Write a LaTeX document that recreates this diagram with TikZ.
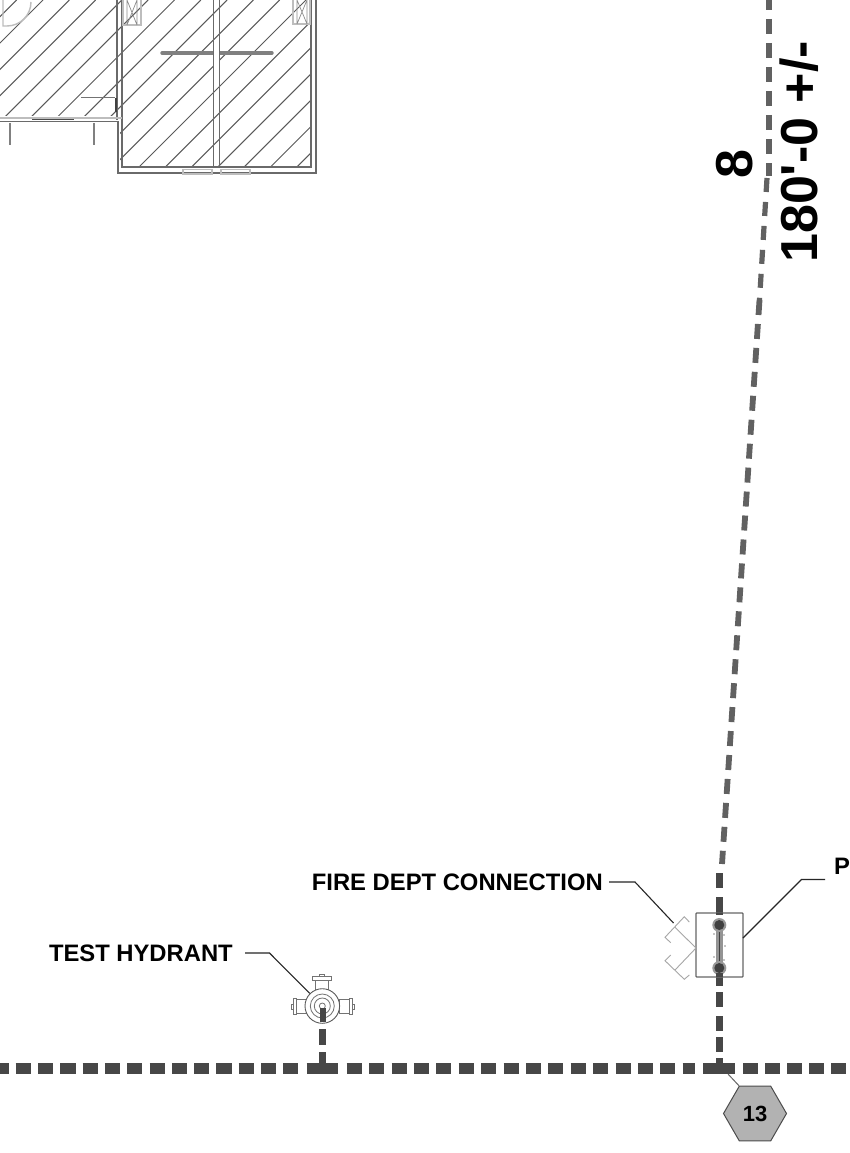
\documentclass[tikz,border=0pt]{standalone}
\usepackage{fontspec}
\setmainfont{Liberation Sans}
\newfontfamily\plainfont{Liberation Sans}
\usetikzlibrary{shapes.geometric}
\definecolor{pipe}{HTML}{474747}
\definecolor{wallc}{HTML}{6A6A6A}
\definecolor{lightc}{HTML}{BDBDBD}
\definecolor{hexc}{HTML}{B2B2B2}
\tikzset{
  label text/.style={font=\bfseries\fontsize{23.8}{28}\selectfont, inner sep=0pt, text=black},
  big text/.style={font=\plainfont\bfseries\fontsize{52}{60}\selectfont, inner sep=0pt, rotate=90, text=black},
  leader/.style={draw=black!85, line width=1.1pt},
  hatch/.style={draw=black!65, line width=1pt},
  wall/.style={draw=wallc, line width=1.8pt},
  faint/.style={draw=lightc, line width=1.4pt},
  hydr/.style={draw=black!55, line width=0.9pt, fill=white},
  mainpipe/.style={draw=pipe, line width=11.5pt},
  midpipe/.style={draw=pipe, line width=6.8pt},
  thinpipe/.style={draw=black!62, line width=5.2pt}
}
\begin{document}
\begin{tikzpicture}[x=1pt,y=-1pt]
\useasboundingbox (0,0) rectangle (849,1153);
\clip (0,0) rectangle (849,1153);
\fill[white] (0,0) rectangle (849,1153);

% --- building: hatching (one 45 degree family, x+y = 306 + 26.3k)
\begin{scope}
  \clip (0,0) rectangle (120,116) (120,0) rectangle (311,167);
  \foreach \k in {-12,...,8}
    \draw[hatch] ({306+26.3*\k},0) -- ({306+26.3*\k-200},200);
\end{scope}
% bar
\draw[draw=black!50,line width=3.4pt,line cap=round] (162,53) -- (272,53);
\fill[white] (214,40) rectangle (219,68);
% walls
\draw[wall] (117.3,0) -- (117.3,120);
\draw[wall] (122,0) -- (122,167) -- (311,167) -- (311,0);
\draw[wall] (316,0) -- (316,172.7) -- (118,172.7) -- (118,121.5) -- (0,121.5);
\draw[wall,line width=1.3pt] (213.5,0) -- (213.5,167);
\draw[wall,line width=1.3pt] (219.5,0) -- (219.5,167);
\draw[faint] (0,118) -- (122,118);
\draw[draw=black!70,line width=1.8pt] (32,119.5) -- (74,119.5);
\draw[draw=black!50,line width=2.6pt] (10,123) -- (10,145);
\draw[draw=black!50,line width=2.6pt] (94,123) -- (94,145);
\draw[draw=black!55,line width=1pt] (81,98) -- (115,98);
\draw[draw=black!75,line width=1.3pt] (116,98) -- (116,112);
% windows
\draw[faint] (183,169.5) rectangle (212,174);
\draw[faint] (221,169.5) rectangle (250,174);
% door arc
\draw[faint] (3,0) -- (3,26) -- (7,26) arc[start angle=90,end angle=0,radius=24];
% boxes at wall
\draw[faint] (123,-2) rectangle (141,25);
\draw[draw=black!45,line width=.7pt] (127,-2) -- (127,25) (127,0) -- (137,25) (137,0) -- (127,25) (137,-2) -- (137,25);
\draw[faint] (293,-2) rectangle (310,24);
\draw[draw=black!45,line width=.7pt] (297,-2) -- (297,24) (297,0) -- (307,24) (307,0) -- (297,24) (307,-2) -- (307,24);

% --- long dashed run
\draw[thinpipe,dash pattern=on 15pt off 9pt] (769,-5) -- (769,176);
\draw[thinpipe,dash pattern=on 14pt off 10pt] (767,178) -- (759.5,300);
\draw[thinpipe,line width=5.8pt,dash pattern=on 15pt off 9pt] (759.5,300) -- (722,864);

% main horizontal line
\draw[mainpipe,dash pattern=on 15.2pt off 7.1pt] (-6.6,1068.5) -- (298,1068.5);
\draw[mainpipe] (306.7,1068.5) -- (338,1068.5);
\draw[mainpipe,dash pattern=on 15pt off 7.4pt] (346.7,1068.5) -- (695,1068.5);
\draw[mainpipe] (703.3,1068.5) -- (735,1068.5);
\draw[mainpipe,dash pattern=on 15pt off 7pt] (743.3,1068.5) -- (855,1068.5);

% hydrant branch
\draw[midpipe] (322.5,1052) -- (322.5,1064);
\draw[midpipe] (322.5,1029) -- (322.5,1045);

% FDC branch
\foreach \a/\b in {1058/1064,1037/1052,1016/1031,992/1007,977/986,897/913,873/888}
  \draw[midpipe] (719.3,\a) -- (719.3,\b);

% --- hydrant symbol
\draw[hydr] (296,999) rectangle (306,1013.5);
\draw[hydr] (339,999) rectangle (349,1013.5);
\draw[hydr] (293,998) rectangle (296,1014);
\draw[hydr] (349,998) rectangle (352,1014);
\draw[hydr] (291.5,1004) rectangle (293,1009);
\draw[hydr] (352,1004) rectangle (354,1009);
\draw[hydr] (315.7,980.7) rectangle (328,995);
\draw[hydr] (312.7,976.7) rectangle (331,980.7);
\draw[hydr] (319,974.3) rectangle (324,976.7);
\node[circle,draw=black!65,fill=white,line width=.9pt,minimum size=34.6pt,inner sep=0pt] (hyd) at (322.3,1006) {};
\draw[draw=black!55,line width=.8pt] (hyd.center) circle[radius=12];
\draw[draw=black!55,line width=.8pt] (hyd.center) circle[radius=8];
\draw[draw=black!55,line width=.8pt] (hyd.center) circle[radius=3];
\draw[midpipe,line width=6pt] (322.5,1008) -- (322.5,1022);

% --- FDC symbol
\node[draw=black!60,line width=1.2pt,fill=white,minimum width=47pt,minimum height=64pt,inner sep=0pt,rounded corners=.8pt] (fdc) at (719.5,945) {};
\draw[midpipe] (719.3,913) -- (719.3,915);
\draw[draw=black!42,line width=6.5pt] (719.3,922) -- (719.3,972);
\draw[draw=black!75,line width=1.6pt] (719.3,925) -- (719.3,968);
\fill[black!40] (719.3,925) circle[radius=7] (719.3,968) circle[radius=7];
\fill[black!75] (719.3,925) circle[radius=5] (719.3,968) circle[radius=5];
\fill[black!45] (724,935) circle[radius=.9] (725,946) circle[radius=.9] (714,957) circle[radius=.9] (724,960) circle[radius=.9] (714,934) circle[radius=.8];
\draw[midpipe] (719.3,973) -- (719.3,977);
\coordinate (fdcnose) at (696,948);
\draw[draw=black!35,line width=.9pt] (689.3,922) -- (684.3,916.7) -- (665,937.3) -- (670.7,942.7);
\draw[draw=black!35,line width=.9pt] (675,927.3) -- (fdcnose) -- (675,970);
\draw[draw=black!35,line width=.9pt] (670.7,955) -- (665,960.7) -- (684.3,979.3) -- (689.3,975);

% --- labels
\node[label text,anchor=east] (fdctext) at (603,882) {FIRE DEPT CONNECTION};
\node[label text,anchor=east] (hydtext) at (233,953) {TEST HYDRANT};
\node[label text,anchor=west] (ptext) at (834,866) {P};
\node[big text] (eight) at (735,164.5) {8};
\node[big text,anchor=west] (dist) at (799.5,263) {180'-0 +/-};

% --- leaders
\coordinate (fdcbend) at (635,882);
\coordinate (fdctip) at (673.5,923);
\draw[leader] ([xshift=6pt]fdctext.east) -- (fdcbend) -- (fdctip);
\coordinate (hydbend) at (269.5,953);
\draw[leader] ([xshift=12pt]hydtext.east) -- (hydbend) -- (hyd.135);
\coordinate (pbend) at (801.5,879.5);
\coordinate (pstart) at (825,879.5);
\coordinate (ptip) at (743,938);
\draw[leader] (pstart) -- (pbend) -- (ptip);

% --- tag
\node[regular polygon,regular polygon sides=6,draw=black!70,fill=hexc,line width=1pt,minimum size=63pt,inner sep=0pt,
  font=\bfseries\fontsize{22}{26}\selectfont] (tag) at (755,1113.5) {13};
\coordinate (tagstart) at (728,1074);
\draw[draw=black!60,line width=1pt] (tagstart) -- (tag.corner 2);
\end{tikzpicture}
\end{document}
